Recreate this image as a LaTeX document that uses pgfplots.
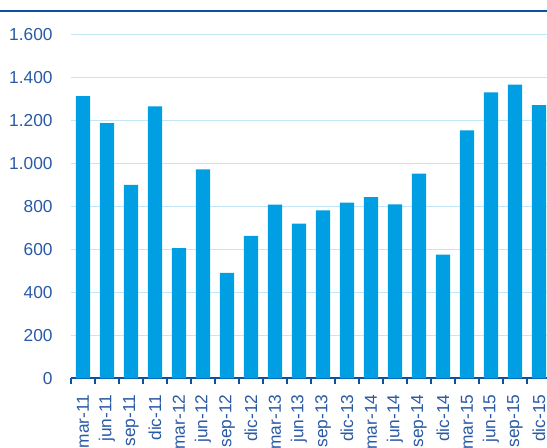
\documentclass[border=0pt]{standalone}
\usepackage{fontspec}
\setmainfont{Liberation Sans}
\usepackage{pgfplots}
\pgfplotsset{compat=1.18}
\definecolor{barblue}{HTML}{009FE3}
\definecolor{gridblue}{HTML}{C2E8F7}
\definecolor{txtblue}{HTML}{2A5AA6}
\definecolor{lineblue}{HTML}{0E4FA0}

\pgfplotstableread{
idx value
0 1312
1 1187
2 900
3 1265
4 605
5 972
6 490
7 662
8 808
9 719
10 781
11 817
12 842
13 809
14 952
15 575
16 1153
17 1330
18 1366
19 1270
}\ipcdata

\begin{document}
\begin{tikzpicture}
  \begin{axis}[
    at={(53.25pt,52.3pt)}, anchor=south west,
    scale only axis,
    width=360pt, height=258pt,
    xmin=-0.5, xmax=19.5,
    ymin=0, ymax=1600,
    axis x line*=bottom,
    axis y line*=left,
    x axis line style={lineblue, line width=1.6pt, -},
    y axis line style={draw=none},
    ytick={0,200,...,1600},
    ymajorgrids,
    major grid style={gridblue, line width=0.9pt},
    major y tick style={draw=none},
    xtick={0,...,19},
    xticklabels={mar-11,jun-11,sep-11,dic-11,mar-12,jun-12,sep-12,dic-12,mar-13,jun-13,sep-13,dic-13,mar-14,jun-14,sep-14,dic-14,mar-15,jun-15,sep-15,dic-15},
    major x tick style={draw=none},
    minor xtick={-0.5,0.5,...,19.5},
    minor x tick style={lineblue, line width=1.2pt},
    minor tick length=4pt,
    tick align=outside,
    xticklabel style={rotate=90, anchor=east, font=\fontsize{13}{14}\selectfont, text=txtblue, xshift=-4.5pt},
    yticklabel style={font=\fontsize{13}{14}\selectfont, text=txtblue, xshift=-6pt},
    /pgf/number format/.cd, 1000 sep={.}, assume math mode=true,
  ]
    \addplot[ybar, bar width=10.8pt, fill=barblue, draw=none] table[x=idx, y=value] {\ipcdata};
  \end{axis}
  \draw[lineblue, line width=1.8pt] (0pt,327.75pt) -- (411pt,327.75pt);
  \pgfresetboundingbox
  \useasboundingbox (0pt,0pt) rectangle (410.25pt,336pt);
\end{tikzpicture}
\end{document}
